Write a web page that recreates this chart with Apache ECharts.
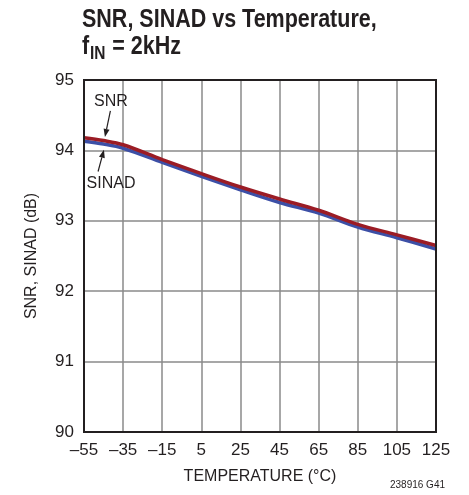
<!DOCTYPE html>
<html>
<head>
<meta charset="utf-8">
<script src="https://cdn.jsdelivr.net/npm/echarts@6/dist/echarts.min.js"></script>
<style>
  html, body { margin: 0; padding: 0; background: #fff; }
  #chart { width: 469px; height: 495px; }
</style>
</head>
<body>
<div id="chart"></div>
<script>
// Temperature sweep (°C) and measured converter performance (dB)
const temperatures = [-55, -45, -35, -15, 5, 25, 45, 65, 85, 105, 125];
const snrValues    = [94.18, 94.14, 94.08, 93.87, 93.67, 93.48, 93.31, 93.15, 92.95, 92.80, 92.65];
const sinadValues  = [94.13, 94.09, 94.03, 93.83, 93.63, 93.44, 93.26, 93.11, 92.91, 92.76, 92.60];
const xTicks = [-55, -35, -15, 5, 25, 45, 65, 85, 105, 125];
const yTicks = [90, 91, 92, 93, 94, 95];

const FONT = '"Liberation Sans", Arial, sans-serif';
const TEXT = '#231f20';

const chart = echarts.init(document.getElementById('chart'), null, { renderer: 'canvas' });

const pairs = (ys) => temperatures.map((t, i) => [t, ys[i]]);
const fmtTick = (v) => (v < 0 ? '\u2013' + Math.abs(v) : String(v));

chart.setOption({
  animation: false,
  backgroundColor: '#fff',
  grid: { left: 84, right: 33, top: 80, bottom: 63, containLabel: false },
  xAxis: {
    type: 'value',
    min: -55,
    max: 125,
    interval: 20,
    name: 'TEMPERATURE (°C)',
    nameLocation: 'middle',
    nameGap: 37,
    nameTextStyle: { fontFamily: FONT, fontSize: 16, color: TEXT },
    axisLine: { show: true, onZero: false, lineStyle: { color: '#231f20', width: 2 } },
    axisTick: { show: false },
    axisLabel: {
      fontFamily: FONT, fontSize: 17, color: TEXT, margin: 10,
      formatter: (v) => (xTicks.includes(v) ? fmtTick(v) : '')
    },
    splitLine: { show: true, lineStyle: { color: '#8a8a8a', width: 1.5 } }
  },
  yAxis: {
    type: 'value',
    min: 90,
    max: 95,
    interval: 1,
    name: 'SNR, SINAD (dB)',
    nameLocation: 'middle',
    nameGap: 44,
    nameTextStyle: { fontFamily: FONT, fontSize: 16, color: TEXT },
    axisLine: { show: true, onZero: false, lineStyle: { color: '#231f20', width: 2 } },
    axisTick: { show: false },
    axisLabel: {
      fontFamily: FONT, fontSize: 17, color: TEXT, margin: 10,
      formatter: (v) => (yTicks.includes(v) ? String(v) : '')
    },
    splitLine: { show: true, lineStyle: { color: '#8a8a8a', width: 1.5 } }
  },
  series: [
    {
      name: 'SINAD',
      type: 'line',
      data: pairs(sinadValues),
      smooth: 0.35,
      symbol: 'none',
      lineStyle: { color: '#3c4fa6', width: 3.5 },
      z: 3
    },
    {
      name: 'SNR',
      type: 'line',
      data: pairs(snrValues),
      smooth: 0.35,
      symbol: 'none',
      lineStyle: { color: '#9b1c25', width: 3.5 },
      z: 4
    }
  ]
});

// Text width helper for laying out the subscripted title line
const measureCtx = document.createElement('canvas').getContext('2d');
function textWidth(str, font) {
  measureCtx.font = font;
  return measureCtx.measureText(str).width;
}

// Plot frame, condensed title, and curve call-outs placed in data space
function drawOverlays() {
  const p = (x, y) => chart.convertToPixel({ gridIndex: 0 }, [x, y]);
  const tl = p(-55, 95);
  const br = p(125, 90);

  const snrText = p(-41.2, 94.70);
  const snrFrom = p(-41.5, 94.56);
  const snrTo   = p(-44.3, 94.19);
  const sinText = p(-41.2, 93.53);
  const sinFrom = p(-47.8, 93.70);
  const sinTo   = p(-44.8, 94.01);

  const arrow = (from, to) => {
    const ang = Math.atan2(to[1] - from[1], to[0] - from[0]);
    const L = 8, W = 3;
    const bx = to[0] - L * Math.cos(ang), by = to[1] - L * Math.sin(ang);
    const nx = -Math.sin(ang) * W, ny = Math.cos(ang) * W;
    return [
      { type: 'line', shape: { x1: from[0], y1: from[1], x2: bx, y2: by }, style: { stroke: '#231f20', lineWidth: 1.2 }, z: 10 },
      { type: 'polygon', shape: { points: [[to[0], to[1]], [bx + nx, by + ny], [bx - nx, by - ny]] }, style: { fill: '#231f20' }, z: 10 }
    ];
  };

  const big = 'bold 25px ' + FONT;
  const small = 'bold 18px ' + FONT;
  const wF = textWidth('f', big);
  const wIN = textWidth('IN', small);

  chart.setOption({
    graphic: [
      { type: 'rect', shape: { x: tl[0], y: tl[1], width: br[0] - tl[0], height: br[1] - tl[1] },
        style: { fill: 'none', stroke: '#231f20', lineWidth: 2 }, z: 5 },
      {
        type: 'group', x: 82, y: 0, scaleX: 0.86, z: 10,
        children: [
          { type: 'text', x: 0, y: 8,
            style: { text: 'SNR, SINAD vs Temperature,', font: big, fill: TEXT, verticalAlign: 'top' } },
          { type: 'text', x: 0, y: 35,
            style: { text: 'f', font: big, fill: TEXT, verticalAlign: 'top' } },
          { type: 'text', x: wF + 1, y: 45,
            style: { text: 'IN', font: small, fill: TEXT, verticalAlign: 'top' } },
          { type: 'text', x: wF + wIN + 2, y: 35,
            style: { text: ' = 2kHz', font: big, fill: TEXT, verticalAlign: 'top' } }
        ]
      },
      { type: 'text', x: snrText[0], y: snrText[1],
        style: { text: 'SNR', font: '16px ' + FONT, fill: TEXT, align: 'center', verticalAlign: 'middle' }, z: 10 },
      { type: 'text', x: sinText[0], y: sinText[1],
        style: { text: 'SINAD', font: '16px ' + FONT, fill: TEXT, align: 'center', verticalAlign: 'middle' }, z: 10 },
      ...arrow(snrFrom, snrTo),
      ...arrow(sinFrom, sinTo),
      { type: 'text', right: 24, bottom: 5,
        style: { text: '238916 G41', font: '10px ' + FONT, fill: TEXT }, z: 10 }
    ]
  });
}
drawOverlays();
</script>
</body>
</html>
